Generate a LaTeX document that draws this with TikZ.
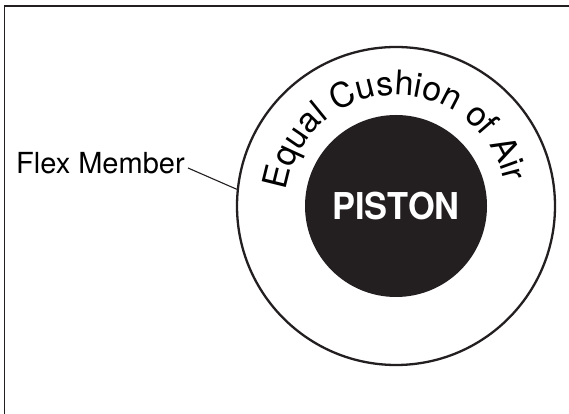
\documentclass[tikz,border=0pt]{standalone}
\usepackage{fontspec}
\setmainfont{TeX Gyre Heros}
\usetikzlibrary{decorations.text,calc}
\definecolor{ink}{RGB}{35,31,32}
\tikzset{
  ringline/.style={draw=ink, line width=2.3pt},
  framelinestyle/.style={draw=ink, line width=1.6pt},
  leader/.style={draw=ink, line width=1.1pt},
}
\begin{document}
\begin{tikzpicture}[x=1pt,y=1pt]
\useasboundingbox (0,0) rectangle (569,414);
\fill[white] (0,0) rectangle (569,414);
% frame (only top and left visible)
\draw[framelinestyle] (4.6,-10) -- (4.6,408) -- (580,408);
\coordinate (c) at (396,208);
\node[circle, ringline, minimum size=318pt, inner sep=0pt] (outer) at (c) {};
\node[circle, fill=ink, minimum size=182pt, inner sep=0pt, text=white,
      font=\fontsize{37}{37}\selectfont\bfseries] (piston) at (c) {\scalebox{0.93}[1]{PISTON}};
\path[decorate, decoration={text along path, text align=center,
  text={|\fontsize{34}{34}\selectfont|Equal Cushion of Air}}]
  ($(c)+(186:111)$) arc[start angle=186, end angle=-2, radius=111];
\node[anchor=base west, inner sep=0pt, font=\fontsize{29}{29}\selectfont] (fm) at (16,240.3) {Flex Member};
\coordinate (ls) at (188,246);
\draw[leader] (ls) -- (outer.174);
\end{tikzpicture}
\end{document}
